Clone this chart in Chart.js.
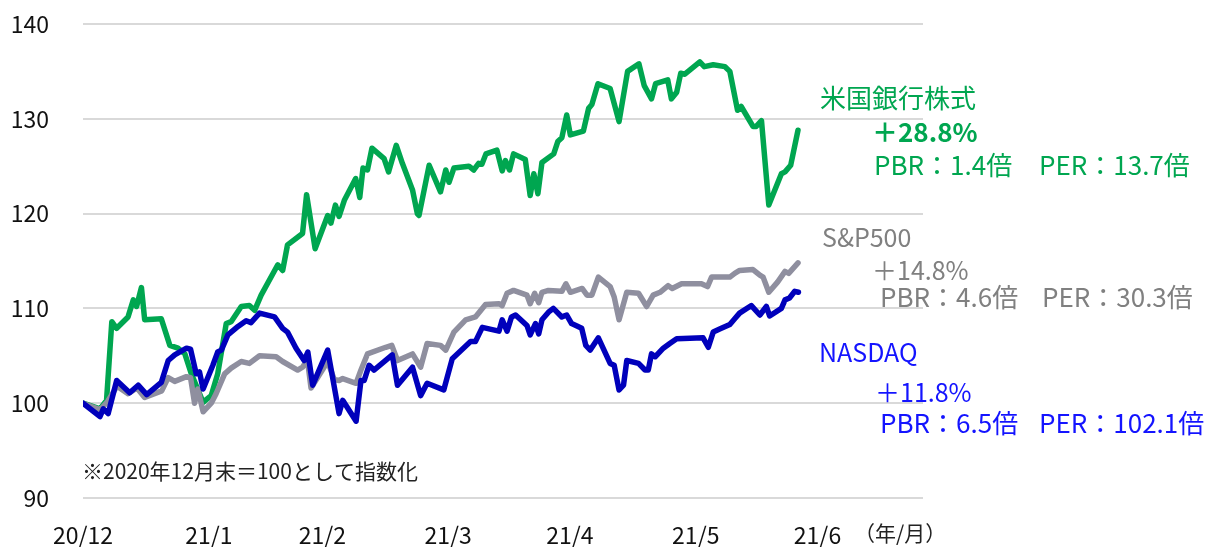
<!DOCTYPE html>
<html>
<head>
<meta charset="utf-8">
<script src="https://cdn.jsdelivr.net/npm/chart.js@4/dist/chart.umd.min.js"></script>
<style>
html,body{margin:0;padding:0;background:#fff;}
#wrap{position:relative;width:1209px;height:547px;}
</style>
</head>
<body>
<div id="wrap"><canvas id="c" width="1209" height="547"></canvas></div>
<script>
// x = days since 2020-12-31
const monthEndDays = [0, 31, 59, 90, 120, 151, 181];
const monthLabels = ['20/12', '21/1', '21/2', '21/3', '21/4', '21/5', '21/6'];

const bankDays = [0,4.2,5.8,7.1,8.3,11.1,12.4,13.2,14.4,15.2,19.3,21.4,23.4,25.1,26.7,29.6,31.6,33.2,35.3,36.5,39.0,41.0,42.3,43.9,48.0,49.2,50.4,54.1,55.1,57.2,60.3,61.1,62.2,63.1,64.4,67.2,68.2,69.0,70.1,71.2,74.2,75.3,77.2,78.7,81.2,82.4,82.8,85.3,88.1,89.4,90.2,91.4,95.1,96.3,97.5,98.3,99.3,102.0,103.3,104.1,105.1,106.1,109.0,110.2,111.1,112.1,113.1,116.0,117.0,118.0,119.2,120.1,123.3,124.6,125.4,126.9,129.9,132.1,134.2,137.0,138.3,140.1,141.1,144.1,145.0,146.3,147.3,148.3,152.0,153.1,155.3,158.2,159.4,161.3,162.2,165.1,165.9,167.2,169.0,172.1,173.0,174.4,176.2];
const bankValues = [100,99.4,100.3,108.6,107.9,109.1,110.9,110.2,112.2,108.8,108.9,106.1,105.8,105.2,103.1,100.1,100.8,103.1,108.4,108.6,110.2,110.3,109.8,111.4,114.6,114.0,116.7,117.9,122.0,116.3,119.8,119.0,120.9,119.7,121.4,123.7,121.7,124.8,124.6,126.9,125.8,124.4,127.2,125.3,122.5,120.0,119.8,125.1,122.3,124.6,123.3,124.8,125.0,124.6,125.3,125.2,126.3,126.7,124.5,125.6,124.6,126.3,125.7,121.9,124.2,122.1,125.4,126.3,127.6,128.0,130.4,128.3,128.7,131.1,131.5,133.7,133.2,129.7,135.0,135.8,133.5,132.1,133.7,134.1,132.1,132.8,134.8,134.7,136.0,135.5,135.7,135.5,135.0,130.9,131.3,129.2,129.2,129.8,120.9,124.2,124.4,125.1,128.8];

const spDays = [0,4.2,6.1,8.4,11.1,13.3,15.2,19.4,21.0,22.6,25.5,26.5,27.5,28.3,29.6,31.6,32.8,34.9,36.5,39.0,41.0,43.5,47.6,49.2,52.9,54.1,55.3,56.2,60.3,61.9,63.1,64.0,67.3,68.5,70.1,74.6,76.1,77.5,81.2,83.2,84.8,88.1,89.4,91.4,94.3,96.7,99.2,102.5,103.3,104.5,106.1,109.4,110.2,111.3,112.3,113.1,114.7,118.0,119.0,120.1,123.0,124.2,125.4,127.0,129.9,130.9,132.1,134.0,136.9,138.9,140.5,142.2,144.2,145.2,147.5,152.4,153.9,154.9,159.4,160.6,161.8,165.1,166.8,167.6,169.0,171.2,173.0,173.9,176.2];
const spValues = [100,99.3,100.2,101.8,101.0,101.6,100.6,101.3,102.7,102.3,102.8,102.7,100.0,101.5,99.1,100.0,101.0,103.1,103.7,104.4,104.2,105.0,104.9,104.4,103.5,103.8,104.6,101.6,104.4,102.5,102.4,102.6,102.1,103.5,105.2,105.9,106.1,104.5,105.2,103.8,106.3,106.1,105.6,107.5,108.8,109.1,110.4,110.5,110.3,111.6,111.9,111.4,110.5,111.6,110.6,111.7,111.9,111.8,112.6,111.7,112.1,111.4,111.4,113.3,112.3,111.2,108.8,111.7,111.6,110.2,111.4,111.7,112.4,112.1,112.6,112.6,112.3,113.3,113.3,113.7,114.0,114.1,113.5,113.3,111.7,112.8,113.9,113.7,114.8];

const nasDays = [0,4.2,5.0,6.2,8.3,11.5,13.6,15.7,19.3,21.0,22.6,25.5,26.5,27.9,28.7,29.6,32.0,33.2,34.1,35.7,38.2,40.2,41.4,43.5,47.2,49.2,50.4,52.5,54.5,55.4,56.6,60.3,63.1,64.0,67.3,68.5,69.3,70.5,71.7,76.2,77.5,81.2,83.2,84.8,88.9,91.0,95.5,96.7,98.4,102.5,103.3,104.5,105.6,106.6,109.4,110.2,111.5,112.3,113.1,114.7,115.9,118.0,119.2,120.4,122.9,123.9,125.0,127.0,129.9,130.9,132.1,133.2,134.0,136.9,138.5,139.3,140.1,141.0,143.0,144.6,146.3,152.8,154.1,155.3,157.3,159.4,160.6,161.8,164.7,166.8,168.4,169.2,172.1,173.0,174.1,175.4,176.3];
const nasValues = [100,98.6,99.4,98.9,102.4,101.1,101.9,100.9,102.2,104.5,105.1,105.8,105.7,103.1,103.3,101.5,104.0,105.4,105.6,107.2,108.1,108.7,108.5,109.5,109.1,107.9,107.5,105.8,104.5,105.4,101.9,105.6,98.9,100.3,98.1,102.4,102.4,104.0,103.5,105.1,101.9,103.8,100.8,102.1,101.4,104.7,106.5,106.5,108.0,107.6,108.8,107.6,109.1,109.3,108.2,107.2,108.4,107.3,108.8,109.6,110.0,109.1,109.3,108.4,107.9,106.1,105.6,106.9,104.2,104.0,101.4,101.9,104.5,104.2,103.5,103.5,105.2,104.9,105.8,106.3,106.8,106.9,105.9,107.5,107.9,108.3,108.9,109.5,110.3,109.3,110.2,109.2,110.0,110.9,111.1,111.8,111.7];

const GREEN = '#00a650', GRAY_LINE = '#8f8f9f', GRAY_TEXT = '#808080', BLUE_LINE = '#0000bb', BLUE_TEXT = '#1414ff';
const FONT = "'Noto Sans CJK JP', 'Noto Sans', sans-serif";

function pts(xs, ys) { return xs.map((x, i) => ({ x: x, y: ys[i] })); }

const annotations = [
  { t: '米国銀行株式', x: 820, y: 98, c: GREEN, s: 26, w: 'normal' },
  { t: '＋28.8%', x: 872, y: 132, c: GREEN, s: 26, w: 'bold' },
  { t: 'PBR：1.4倍', x: 874, y: 165, c: GREEN, s: 26, w: 'normal' },
  { t: 'PER：13.7倍', x: 1039, y: 165, c: GREEN, s: 26, w: 'normal' },
  { t: 'S&P500', x: 822, y: 237, c: GRAY_TEXT, s: 25, w: 'normal' },
  { t: '＋14.8%', x: 872, y: 270, c: GRAY_TEXT, s: 25, w: 'normal' },
  { t: 'PBR：4.6倍', x: 880, y: 297, c: GRAY_TEXT, s: 26, w: 'normal' },
  { t: 'PER：30.3倍', x: 1042, y: 297, c: GRAY_TEXT, s: 26, w: 'normal' },
  { t: 'NASDAQ', x: 819, y: 352, c: BLUE_TEXT, s: 25, w: 'normal' },
  { t: '＋11.8%', x: 875, y: 392, c: BLUE_TEXT, s: 25, w: 'normal' },
  { t: 'PBR：6.5倍', x: 880, y: 423, c: BLUE_TEXT, s: 26, w: 'normal' },
  { t: 'PER：102.1倍', x: 1039, y: 423, c: BLUE_TEXT, s: 26, w: 'normal' },
  { t: '※2020年12月末＝100として指数化', x: 82, y: 471, c: '#222222', s: 21, w: 'normal' },
  { t: '（年/月）', x: 854, y: 533, c: '#222222', s: 21, w: 'normal' }
];

const textPlugin = {
  id: 'texts',
  afterDraw(chart) {
    const ctx = chart.ctx;
    ctx.save();
    ctx.textBaseline = 'middle';
    ctx.textAlign = 'left';
    annotations.forEach(a => {
      ctx.font = a.w + ' ' + a.s + 'px ' + FONT;
      ctx.fillStyle = a.c;
      ctx.fillText(a.t, a.x, a.y);
    });
    ctx.restore();
  }
};

new Chart(document.getElementById('c'), {
  type: 'line',
  data: {
    datasets: [
      { label: 'NASDAQ', data: pts(nasDays, nasValues), borderColor: BLUE_LINE },
      { label: 'S&P500', data: pts(spDays, spValues), borderColor: GRAY_LINE },
      { label: '米国銀行株式', data: pts(bankDays, bankValues), borderColor: GREEN }
    ]
  },
  options: {
    responsive: false,
    devicePixelRatio: 1,
    animation: false,
    layout: { padding: { left: 0, right: 286, top: 24, bottom: 0 } },
    elements: {
      point: { radius: 0, hoverRadius: 0 },
      line: { borderWidth: 5.5, tension: 0, borderJoinStyle: 'round', borderCapStyle: 'round', fill: false }
    },
    plugins: { legend: { display: false }, tooltip: { enabled: false } },
    scales: {
      x: {
        type: 'linear',
        min: 0,
        max: 207,
        grid: { display: false, drawTicks: false },
        border: { display: false },
        afterBuildTicks(scale) { scale.ticks = monthEndDays.map(v => ({ value: v })); },
        afterFit(scale) { scale.height = 49; scale.paddingLeft = 0; scale.paddingRight = 0; },
        ticks: {
          autoSkip: false,
          maxRotation: 0,
          padding: 23,
          color: '#111111',
          font: { family: FONT, size: 23 },
          callback: (v, i) => monthLabels[i]
        }
      },
      y: {
        min: 90,
        max: 140,
        grid: { color: '#d9d9d9', lineWidth: 2, drawTicks: false },
        border: { display: false },
        afterFit(scale) { scale.width = 83; scale.paddingTop = 0; scale.paddingBottom = 0; },
        ticks: {
          stepSize: 10,
          padding: 34,
          color: '#111111',
          font: { family: FONT, size: 23 }
        }
      }
    }
  },
  plugins: [textPlugin]
});
</script>
</body>
</html>
